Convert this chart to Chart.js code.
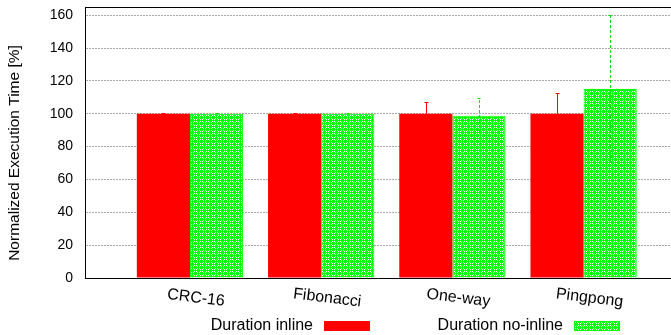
<!DOCTYPE html>
<html>
<head>
<meta charset="utf-8">
<script src="https://cdn.jsdelivr.net/npm/chart.js@4/dist/chart.umd.min.js"></script>
<style>
  html, body { margin: 0; padding: 0; background: #fff; }
  #chart { display: block; }
</style>
</head>
<body>
<canvas id="chart" width="671" height="335"></canvas>
<script>
const categories = ['CRC-16', 'Fibonacci', 'One-way', 'Pingpong'];
const seriesLabels = ['Duration inline', 'Duration no-inline'];
const inlineValues = [100, 100, 100, 100];
const inlineErrors = [0.4, 0.4, 7, 12.5];
const noInlineValues = [100, 100, 98.8, 115];
const noInlineErrors = [0.4, 0.4, 10.5, 45];
const yTicks = [0, 20, 40, 60, 80, 100, 120, 140, 160];

const FONT = '"Liberation Sans", Arial, sans-serif';

// checkered green fill like the gnuplot pattern
function makePattern() {
    const c = document.createElement('canvas');
    c.width = 6;
    c.height = 6;
    const g = c.getContext('2d');
    g.fillStyle = '#fff';
    g.fillRect(0, 0, 6, 6);
    g.fillStyle = '#00ff00';
    for (let i = 0; i < 6; i++) {
        for (let j = 0; j < 6; j++) {
            if ((i + j) % 2 === 0 || i % 3 === 0 || j % 3 === 0) g.fillRect(i, j, 1, 1);
        }
    }
    return g.createPattern(c, 'repeat');
}
const greenFill = makePattern();

const errorBars = {
    id: 'errorBars',
    afterDatasetsDraw(chart) {
        const ctx = chart.ctx;
        const y = chart.scales.y;
        const area = chart.chartArea;
        ctx.save();
        ctx.beginPath();
        ctx.rect(area.left, area.top, area.right - area.left, area.bottom - area.top);
        ctx.clip();
        chart.data.datasets.forEach((ds, di) => {
            const meta = chart.getDatasetMeta(di);
            ctx.strokeStyle = ds.errColor;
            ctx.lineWidth = 1;
            ctx.setLineDash(ds.errDash);
            meta.data.forEach((bar, i) => {
                const x = Math.round(bar.x) + 0.5;
                const hi = y.getPixelForValue(ds.values[i] + ds.errors[i]);
                const lo = y.getPixelForValue(ds.values[i] - ds.errors[i]);
                ctx.beginPath();
                ctx.moveTo(x, lo);
                ctx.lineTo(x, hi);
                ctx.moveTo(x - 2, Math.round(hi) + 0.5);
                ctx.lineTo(x + 2, Math.round(hi) + 0.5);
                ctx.stroke();
            });
        });
        ctx.restore();
    }
};

const decorations = {
    id: 'decorations',
    afterDraw(chart) {
        const ctx = chart.ctx;
        const area = chart.chartArea;
        const xs = chart.scales.x;
        ctx.save();
        // top frame line
        ctx.strokeStyle = '#000';
        ctx.lineWidth = 1;
        ctx.beginPath();
        ctx.moveTo(area.left, Math.round(area.top) + 0.5);
        ctx.lineTo(area.right, Math.round(area.top) + 0.5);
        ctx.stroke();

        ctx.fillStyle = '#000';
        ctx.font = '16px ' + FONT;

        // slightly tilted category labels
        categories.forEach((c, i) => {
            ctx.save();
            ctx.translate(xs.getPixelForValue(i) + 6, 298);
            ctx.rotate(7 * Math.PI / 180);
            ctx.textAlign = 'center';
            ctx.textBaseline = 'middle';
            ctx.fillText(c, 0, 0);
            ctx.restore();
        });

        // y axis title
        ctx.save();
        ctx.font = '15.5px ' + FONT;
        ctx.translate(15, 153);
        ctx.rotate(-Math.PI / 2);
        ctx.textAlign = 'center';
        ctx.textBaseline = 'middle';
        ctx.fillText('Normalized Execution Time [%]', 0, 0);
        ctx.restore();

        // legend: text then swatch
        const textRight = [313, 563];
        chart.data.datasets.forEach((ds, i) => {
            ctx.textAlign = 'right';
            ctx.textBaseline = 'middle';
            ctx.fillStyle = '#000';
            ctx.fillText(ds.label, textRight[i], 326);
            const sx = textRight[i] + 11;
            ctx.fillStyle = ds.backgroundColor;
            ctx.fillRect(sx, 321, 46, 10);
            if (ds.borderWidth) {
                ctx.strokeStyle = ds.borderColor;
                ctx.strokeRect(sx + 0.5, 321.5, 45, 9);
            }
        });
        ctx.restore();
    }
};

new Chart(document.getElementById('chart'), {
    type: 'bar',
    data: {
        datasets: [
            {
                label: seriesLabels[0],
                data: inlineValues.map((v, i) => ({x: i, y: v})),
                values: inlineValues,
                errors: inlineErrors,
                errColor: '#ff0000',
                errDash: [],
                backgroundColor: '#ff0000',
                borderWidth: 0
            },
            {
                label: seriesLabels[1],
                data: noInlineValues.map((v, i) => ({x: i, y: v})),
                values: noInlineValues,
                errors: noInlineErrors,
                errColor: '#00dd00',
                errDash: [3, 2],
                backgroundColor: greenFill,
                borderColor: '#00ff00',
                borderWidth: 1
            }
        ]
    },
    options: {
        responsive: false,
        animation: false,
        categoryPercentage: 0.81,
        barPercentage: 1,
        layout: { autoPadding: false, padding: { top: 7, left: 0, right: 0, bottom: 0 } },
        plugins: {
            legend: { display: false },
            title: { display: false },
            tooltip: { enabled: false }
        },
        scales: {
            x: {
                type: 'linear',
                offset: false,
                min: -0.8,
                max: 3.666,
                afterBuildTicks: s => { s.ticks = categories.map((c, i) => ({value: i})); },
                afterFit: s => { s.height = 57; s.paddingLeft = 0; s.paddingRight = 0; },
                ticks: { display: false },
                grid: { display: false },
                border: { color: '#000', width: 1 }
            },
            y: {
                min: 0,
                max: 165,
                afterBuildTicks: s => { s.ticks = yTicks.map(v => ({value: v})); },
                afterFit: s => { s.width = 85; s.paddingTop = 0; s.paddingBottom = 0; },
                ticks: {
                    color: '#000',
                    padding: 12,
                    font: { family: FONT, size: 14, lineHeight: 1 }
                },
                grid: {
                    drawTicks: false,
                    color: ctx => ctx.tick && ctx.tick.value === 0 ? 'rgba(0,0,0,0)' : '#aaaaaa'
                },
                border: { color: '#000', width: 1, dash: [2, 1] }
            }
        }
    },
    plugins: [errorBars, decorations]
});
</script>
</body>
</html>
